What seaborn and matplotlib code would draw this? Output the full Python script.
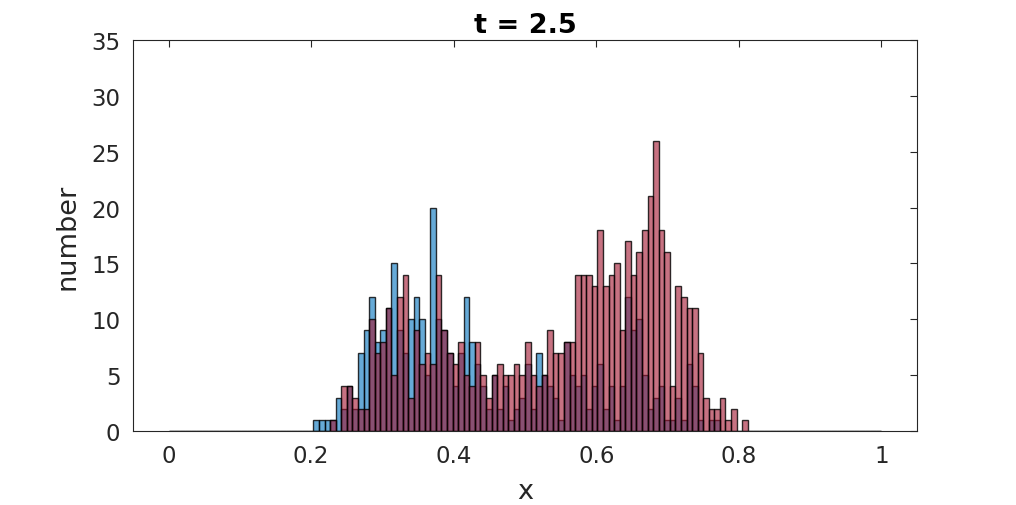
import numpy as np
import pandas as pd
import seaborn as sns
import matplotlib
matplotlib.use("Agg")
import matplotlib.pyplot as plt

# histogram counts, 128 equal bins on [0, 1], first non-empty bin is index 26
first_bin = 26
n_bins = 128
blue_counts = [1, 1, 1, 1, 3, 2, 4, 2, 7, 9,
               12, 8, 9, 11, 15, 9, 7, 10, 12, 10,
               5, 20, 10, 9, 7, 4, 7, 12, 8, 6,
               4, 2, 5, 2, 4, 1, 2, 3, 6, 2,
               7, 5, 4, 3, 1, 8, 5, 4, 5, 2,
               4, 6, 2, 4, 1, 4, 12, 9, 10, 5,
               2, 3, 4, 1, 1, 3, 1, 6, 4, 1,
               0, 1, 1, 0, 0, 0, 0, 0]
red_counts = [0, 0, 0, 1, 0, 4, 4, 3, 2, 2,
              10, 7, 8, 11, 5, 12, 14, 3, 9, 6,
              7, 6, 14, 9, 7, 6, 8, 5, 4, 8,
              5, 3, 5, 6, 5, 5, 6, 5, 8, 5,
              4, 5, 9, 7, 7, 8, 8, 14, 14, 14,
              13, 18, 13, 14, 15, 9, 17, 14, 16, 18,
              21, 26, 18, 16, 4, 13, 12, 11, 11, 7,
              3, 2, 2, 3, 1, 2, 0, 1]
x_ticks = [0, 0.2, 0.4, 0.6, 0.8, 1]
x_tick_labels = ["0", "0.2", "0.4", "0.6", "0.8", "1"]
y_ticks = [0, 5, 10, 15, 20, 25, 30, 35]

width = 1.0 / n_bins
centers = (np.arange(n_bins) + 0.5) * width
blue_full = np.zeros(n_bins)
red_full = np.zeros(n_bins)
blue_full[first_bin:first_bin + len(blue_counts)] = blue_counts
red_full[first_bin:first_bin + len(red_counts)] = red_counts
df_blue = pd.DataFrame({"x": centers, "n": blue_full})
df_red = pd.DataFrame({"x": centers, "n": red_full})

sns.set_style("white")
plt.rcParams["font.family"] = ["DejaVu Sans"]

fig = plt.figure(figsize=(10.16, 5.06), dpi=100)
ax = fig.add_axes([0.1309, 0.1462, 0.7717, 0.7727])

blue = (0, 0.447, 0.741)
red = (0.635, 0.078, 0.184)
sns.histplot(data=df_blue, x="x", weights="n", binwidth=width, binrange=(0, 1),
             color=blue, alpha=0.6, edgecolor=(0, 0, 0, 0.8), linewidth=1.0, ax=ax)
sns.histplot(data=df_red, x="x", weights="n", binwidth=width, binrange=(0, 1),
             color=red, alpha=0.6, edgecolor=(0, 0, 0, 0.8), linewidth=1.0, ax=ax)

text_col = (0.15, 0.15, 0.15)
ax.set_xlim(-0.05, 1.05)
ax.set_ylim(0, 35)
ax.set_xticks(x_ticks)
ax.set_xticklabels(x_tick_labels)
ax.set_yticks(y_ticks)
ax.tick_params(direction="in", length=5, width=0.8, top=True, right=True,
               labelsize=16.5, colors=text_col, pad=9)
for s in ax.spines.values():
    s.set_color(text_col)
    s.set_linewidth(0.8)
ax.set_xlabel("x", fontsize=19.5, color=text_col, labelpad=8)
ax.set_ylabel("number", fontsize=19.5, color=text_col, labelpad=8)
ax.set_title("t = 2.5", fontsize=19.5, fontweight="bold", color="black", pad=6)

fig.savefig("out.png", dpi=100)
